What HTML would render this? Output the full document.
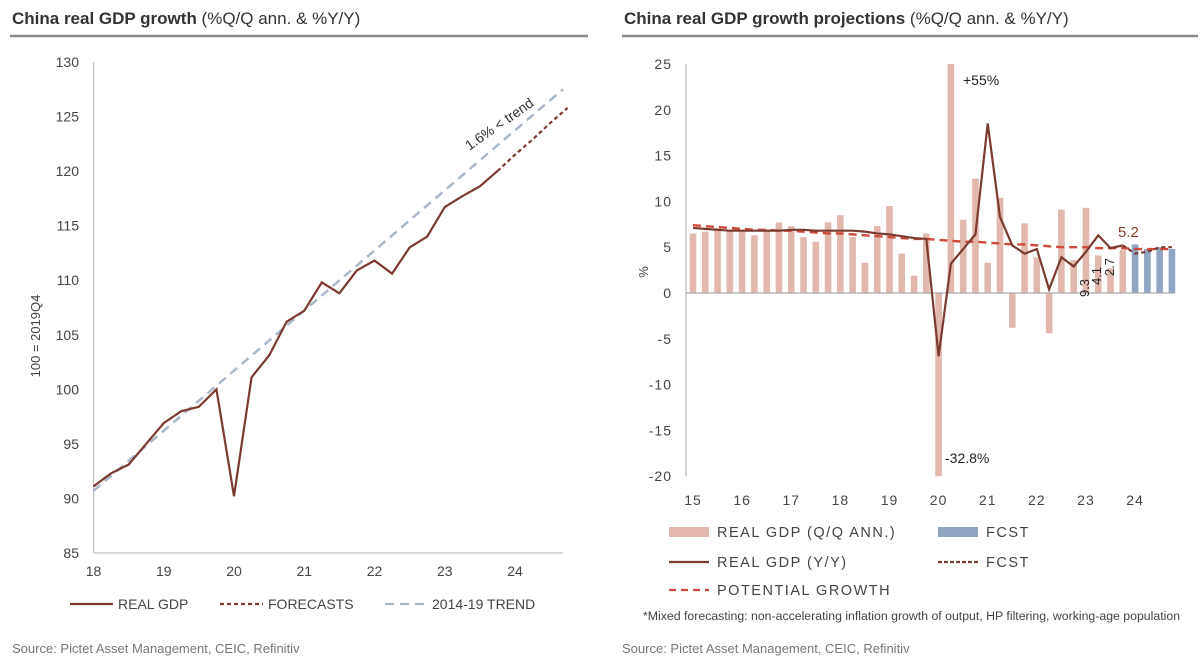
<!DOCTYPE html>
<html><head><meta charset="utf-8"><style>
body{margin:0;background:#fff;width:1200px;height:666px;overflow:hidden}
svg{font-family:"Liberation Sans",sans-serif}
</style></head><body>
<svg id="s" width="1200" height="666" viewBox="0 0 1200 666" xmlns="http://www.w3.org/2000/svg">
<text x="12" y="24" font-size="17" fill="#333"><tspan font-weight="bold">China real GDP growth</tspan> (%Q/Q ann. &amp; %Y/Y)</text>
<line x1="10" y1="36" x2="588" y2="36" stroke="#888" stroke-width="2.5"/>
<text x="624" y="24" font-size="17" fill="#333"><tspan font-weight="bold">China real GDP growth projections</tspan> (%Q/Q ann. &amp; %Y/Y)</text>
<line x1="622" y1="36" x2="1198" y2="36" stroke="#888" stroke-width="2.5"/>
<g id="L"></g>
<g id="R"></g>
<text x="12" y="653" font-size="13" fill="#777">Source: Pictet Asset Management, CEIC, Refinitiv</text>
<text x="622" y="653" font-size="13" fill="#777">Source: Pictet Asset Management, CEIC, Refinitiv</text>
<text x="643" y="620" font-size="12.3" fill="#444">*Mixed forecasting: non-accelerating inflation growth of output, HP filtering, working-age population</text>
</svg>
<script>
const NS="http://www.w3.org/2000/svg";
// Left chart data
const leftYTicks=[85,90,95,100,105,110,115,120,125,130];
const leftXTicks=["18","19","20","21","22","23","24"];
const realGdp=[91.1,92.3,93.1,95.0,96.9,98.0,98.4,100.0,90.2,101.1,103.1,106.2,107.2,109.8,108.8,110.9,111.8,110.6,113.0,114.0,116.7,117.7,118.6,120.0];
const gdpForecast=[120.0,121.5,122.9,124.4,125.8];
const trendStartEnd=[90.7,127.5];
// Right chart data
const rightYTicks=[-20,-15,-10,-5,0,5,10,15,20,25];
const rightXTicks=["15","16","17","18","19","20","21","22","23","24"];
const qoqBars=[6.5,6.7,7.1,6.9,6.7,6.3,6.8,7.7,7.3,6.1,5.6,7.7,8.5,6.1,3.3,7.3,9.5,4.3,1.9,6.5,-32.8,55,8.0,12.5,3.3,10.4,-3.8,7.6,3.9,-4.4,9.1,3.6,9.3,4.1,2.7,4.7];
const qoqFcst=[5.3,4.8,5.0,4.8];
const yoyLine=[7.1,7.0,6.9,6.8,6.8,6.8,6.8,6.8,6.9,6.9,6.8,6.8,6.8,6.8,6.7,6.5,6.4,6.2,6.0,5.9,-6.9,3.2,4.8,6.4,18.5,8.3,5.2,4.3,4.8,0.4,3.9,2.9,4.5,6.3,4.9,5.2];
const yoyFcst=[5.2,4.3,4.5,5.0,5.0];
const potential=[7.4,7.3,7.2,7.1,7.0,6.9,6.9,6.8,6.8,6.7,6.6,6.5,6.5,6.4,6.3,6.2,6.1,6.0,5.9,5.9,5.8,5.7,5.6,5.6,5.5,5.4,5.3,5.3,5.2,5.1,5.0,5.0,5.0,4.9,4.9,4.9,4.8,4.8,4.8,4.8];

function mk(p,tag,a,txt){const e=document.createElementNS(NS,tag);for(const k in a)e.setAttribute(k,a[k]);if(txt!==undefined)e.textContent=txt;p.appendChild(e);return e;}
const L=document.getElementById('L'),R=document.getElementById('R');

// ---- Left
const lx=q=>93.5+q*70.25/4, ly=v=>62+(130-v)*10.91;
let e;
e=mk(L,'line',{x1:93.5,y1:ly(130),x2:93.5,y2:ly(85),stroke:'#bbb','stroke-width':1.2});


e=mk(L,'line',{x1:93.5,y1:ly(85),x2:563,y2:ly(85),stroke:'#bbb','stroke-width':1.2});


leftYTicks.forEach(v=>{e=mk(L,'text',{x:79,y:ly(v)+5,'font-size':14,fill:'#444','text-anchor':'end'},v);

});
leftXTicks.forEach((t,i)=>{e=mk(L,'text',{x:lx(i*4),y:576,'font-size':14,fill:'#444','text-anchor':'middle'},t);

});
e=mk(L,'text',{transform:'translate(40,336) rotate(-90)','font-size':13,fill:'#444','text-anchor':'middle'},'100 = 2019Q4');


e=mk(L,'line',{x1:lx(0),y1:ly(trendStartEnd[0]),x2:563,y2:ly(trendStartEnd[1]),stroke:'#a9b8c8','stroke-width':2.5,'stroke-dasharray':'9,6'});


e=mk(L,'polyline',{points:realGdp.map((v,i)=>lx(i)+','+ly(v)).join(' '),fill:'none',stroke:'#7b3a30','stroke-width':2.2});


e=mk(L,'polyline',{points:gdpForecast.map((v,i)=>lx(i+23)+','+ly(v)).join(' '),fill:'none',stroke:'#7b3a30','stroke-width':2.2,'stroke-dasharray':'4,3'});


e=mk(L,'text',{transform:'translate(502,128) rotate(-35)','font-size':14,fill:'#333','text-anchor':'middle'},'1.6% < trend');


[[70,113,'',"REAL GDP",'real'],[220,263,'4,3',"FORECASTS",'fc'],[385,427,'9,6',"2014-19 TREND",'tr']].forEach(d=>{
 e=mk(L,'line',{x1:d[0],y1:604,x2:d[1],y2:604,stroke:d[4]=='tr'?'#a9b8c8':'#7b3a30','stroke-width':2.2,'stroke-dasharray':d[2]||'none'});
 
 
 e=mk(L,'text',{x:d[1]+5,y:609,'font-size':14,fill:'#444'},d[3]);
 
 
});

// ---- Right
const rx=q=>693+q*12.28, ry=v=>293-Math.max(-20,Math.min(25,v))*9.16;
e=mk(R,'line',{x1:686,y1:ry(25),x2:686,y2:ry(-20),stroke:'#bbb','stroke-width':1.2});


rightYTicks.forEach(v=>{e=mk(R,'text',{x:672,y:ry(v)+5,'font-size':14,fill:'#444','text-anchor':'end','letter-spacing':'1'},v);

});
rightXTicks.forEach((t,i)=>{e=mk(R,'text',{x:rx(i*4),y:505,'font-size':14,fill:'#444','text-anchor':'middle','letter-spacing':'1'},t);

});
e=mk(R,'text',{transform:'translate(648,272) rotate(-90)','font-size':13,fill:'#444','text-anchor':'middle'},'%');


qoqBars.forEach((v,i)=>{const y0=ry(0),y1=ry(v);
 e=mk(R,'rect',{x:rx(i)-3.3,y:Math.min(y0,y1),width:6.6,height:Math.abs(y1-y0),fill:'#e2b8ae'});
 
 });
qoqFcst.forEach((v,i)=>{const y0=ry(0),y1=ry(v);
 e=mk(R,'rect',{x:rx(i+36)-3.3,y:Math.min(y0,y1),width:6.6,height:Math.abs(y1-y0),fill:'#8fa5c2'});
 
 });
e=mk(R,'line',{x1:686,y1:ry(0),x2:1175,y2:ry(0),stroke:'#aaa','stroke-width':1.2});


e=mk(R,'polyline',{points:potential.map((v,i)=>rx(i)+','+ry(v)).join(' '),fill:'none',stroke:'#d04a3c','stroke-width':2.4,'stroke-dasharray':'8,5'});


e=mk(R,'polyline',{points:yoyLine.map((v,i)=>rx(i)+','+ry(v)).join(' '),fill:'none',stroke:'#7b3a30','stroke-width':2.2});


e=mk(R,'polyline',{points:yoyFcst.map((v,i)=>rx(i+35)+','+ry(v)).join(' '),fill:'none',stroke:'#7b3a30','stroke-width':2.2,'stroke-dasharray':'4,3'});


e=mk(R,'text',{x:963,y:85,'font-size':14,fill:'#222'},'+55%');


e=mk(R,'text',{x:945,y:463,'font-size':14,fill:'#222'},'-32.8%');


e=mk(R,'text',{x:1118,y:237,'font-size':15,fill:'#8b3a30'},'5.2');


[['9.3',1089,288],['4.1',1101,276],['2.7',1114,267]].forEach(d=>{
 e=mk(R,'text',{transform:`translate(${d[1]},${d[2]}) rotate(-90)`,'font-size':13,fill:'#222','text-anchor':'middle'},d[0]);
 
 });
function leg(x1,y,kind,label){
 if(kind=='pink'||kind=='blue'){e=mk(R,'rect',{x:x1,y:y-5,width:40,height:10,fill:kind=='pink'?'#e2b8ae':'#8fa5c2'});}
 else e=mk(R,'line',{x1:x1,y1:y,x2:x1+40,y2:y,stroke:kind=='pot'?'#d04a3c':'#7b3a30','stroke-width':2.2,'stroke-dasharray':kind=='solid'?'none':(kind=='pot'?'7,5':'4,2')});
 
 
 e=mk(R,'text',{x:x1+48,y:y+5,'font-size':14.5,fill:'#444','letter-spacing':'1.5'},label);
 
 
}
leg(669,532,'pink','REAL GDP (Q/Q ANN.)');leg(938,532,'blue','FCST');
leg(669,562,'solid','REAL GDP (Y/Y)');leg(938,562,'dash','FCST');
leg(669,590,'pot','POTENTIAL GROWTH');
</script>
</body></html>
